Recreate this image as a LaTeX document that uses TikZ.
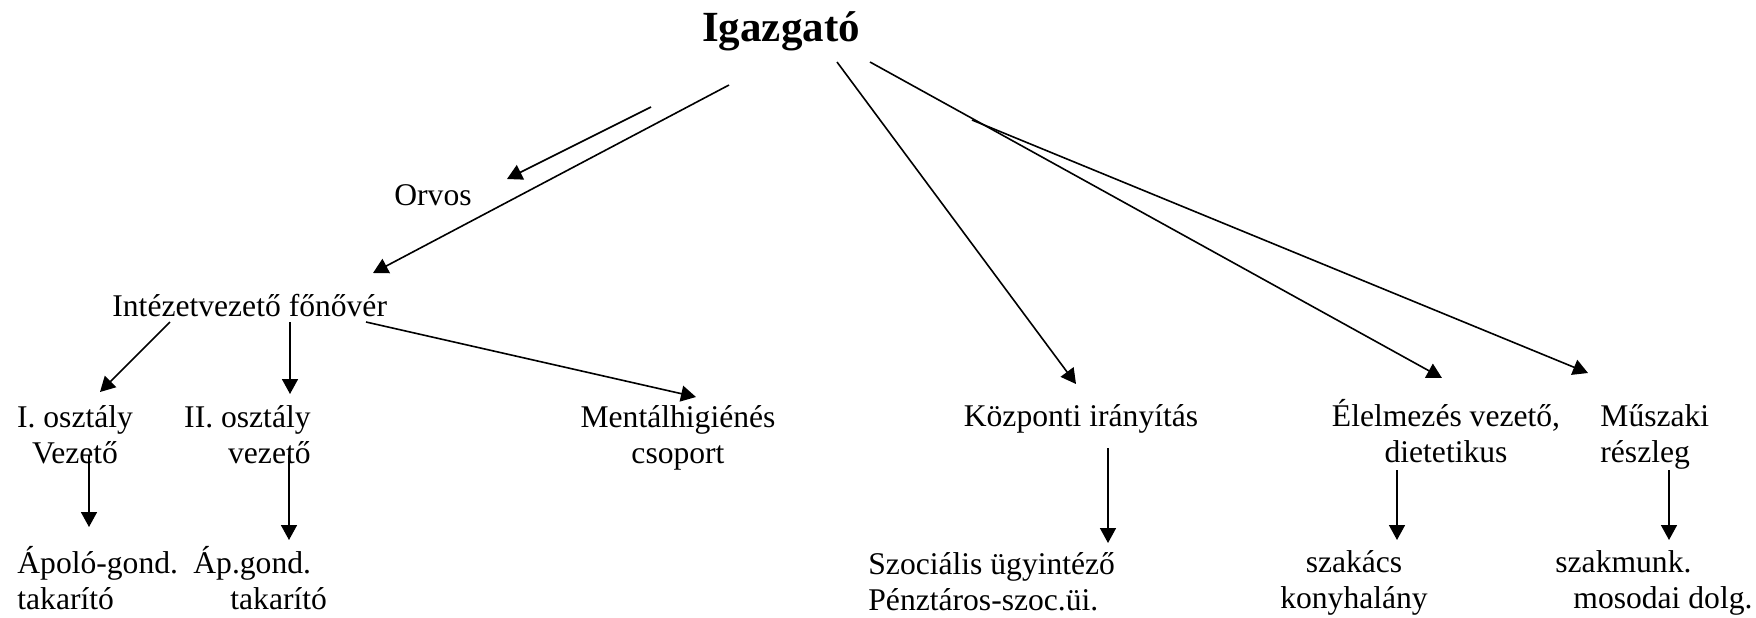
\documentclass[tikz,border=0pt]{standalone}
\usepackage{fontspec}
\setmainfont{Liberation Serif}
\usepackage{tikz}
\usetikzlibrary{arrows.meta}

\begin{document}
\begin{tikzpicture}[
      x=0.5pt,
      y=-0.5pt,
      boss_node/.style={
         inner sep=0pt,
         font=\fontsize{21.5}{25}\selectfont\bfseries},
      text_node/.style={
         inner sep=0pt,
         font=\fontsize{15.8}{18}\selectfont},
      arrow_black/.style={
         -{Triangle[length=7.5pt,width=8pt]},
         line width=0.8pt,
         }
]
      \useasboundingbox (0,0) rectangle (1756,617);

      %top (base of a two-line node = its last line)
      \node[boss_node,anchor=base] (boss) at (781,41) {Igazgató};
      \node[text_node,anchor=base] (orvos) at (433,205) {Orvos};
      \node[text_node,anchor=base west] (fonover) at (112,316) {Intézetvezető főnővér};

      %middle row
      \node[text_node,anchor=base,align=center] (oszt1) at (75,463) {I. osztály\\Vezető};
      \node[text_node,anchor=base east,align=right] (oszt2) at (311,463) {II. osztály\\vezető};
      \node[text_node,anchor=base,align=center] (mental) at (678,463) {Mentálhigiénés\\csoport};
      \node[text_node,anchor=base] (kozp) at (1081,426) {Központi irányítás};
      \node[text_node,anchor=base,align=center] (elelm) at (1446,462) {Élelmezés vezető,\\dietetikus};
      \node[text_node,anchor=base west,align=left] (muszaki) at (1600,462) {Műszaki\\részleg};

      %bottom row
      \node[text_node,anchor=base west,align=left] (apolo) at (17,609) {Ápoló-gond.\\takarító};
      \node[text_node,anchor=base west,align=left] (apgond) at (193,609) {Áp.gond.\\\hspace*{18.5pt}takarító};
      \node[text_node,anchor=base west,align=left] (szoc) at (868,610) {Szociális ügyintéző\\Pénztáros-szoc.üi.};
      \node[text_node,anchor=base,align=center] (szakacs) at (1354,608) {szakács\\konyhalány};
      \node[text_node,anchor=base west,align=left] (szakmunk) at (1555,608) {szakmunk.\\\hspace*{9pt}mosodai dolg.};

      %arrow ends
      \coordinate (boss-o) at (651,107);   \coordinate (orvos-t) at (507,179);
      \coordinate (boss-f) at (729,85);    \coordinate (fonover-t) at (373,273);
      \coordinate (boss-k) at (837,62);    \coordinate (kozp-t) at (1076,384);
      \coordinate (boss-e) at (870,62);    \coordinate (elelm-t) at (1442,378);
      \coordinate (boss-m) at (972,120);   \coordinate (muszaki-t) at (1588,373);
      \coordinate (fonover-1) at (170,322); \coordinate (oszt1-t) at (100,392);
      \coordinate (fonover-2) at (290,322); \coordinate (oszt2-t) at (290,394);
      \coordinate (fonover-m) at (366,322); \coordinate (mental-t) at (696,397);
      \coordinate (oszt1-b) at (89,455);    \coordinate (apolo-t) at (89,527);
      \coordinate (oszt2-b) at (289,455);   \coordinate (apgond-t) at (289,540);
      \coordinate (kozp-b) at (1108,448);   \coordinate (szoc-t) at (1108,543);
      \coordinate (elelm-b) at (1397,470);  \coordinate (szakacs-t) at (1397,540);
      \coordinate (muszaki-b) at (1669,470); \coordinate (szakmunk-t) at (1669,540);

    \foreach \i/\j in {% start/end
      boss-o/orvos-t,
      boss-f/fonover-t,
      boss-k/kozp-t,
      boss-e/elelm-t,
      boss-m/muszaki-t,
      fonover-1/oszt1-t,
      fonover-2/oszt2-t,
      fonover-m/mental-t,
      oszt1-b/apolo-t,
      oszt2-b/apgond-t,
      kozp-b/szoc-t,
      elelm-b/szakacs-t,
      muszaki-b/szakmunk-t}
      \draw [arrow_black] (\i) -- (\j);

\end{tikzpicture}
\end{document}
